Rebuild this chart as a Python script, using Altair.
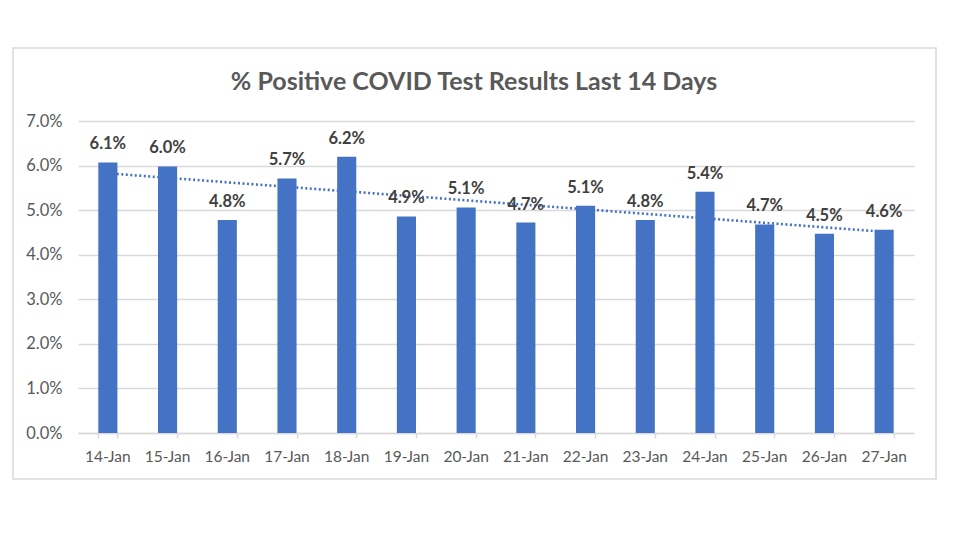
import altair as alt
import pandas as pd

dates = ["14-Jan", "15-Jan", "16-Jan", "17-Jan", "18-Jan", "19-Jan", "20-Jan",
         "21-Jan", "22-Jan", "23-Jan", "24-Jan", "25-Jan", "26-Jan", "27-Jan"]
pct_positive = [0.0607, 0.0598, 0.0478, 0.0571, 0.0620, 0.0486, 0.0506,
                0.0472, 0.0510, 0.0478, 0.0541, 0.0468, 0.0447, 0.0456]
y_ticks = [0.0, 0.01, 0.02, 0.03, 0.04, 0.05, 0.06, 0.07]
title_text = "% Positive COVID Test Results Last 14 Days"

df = pd.DataFrame({"date": dates, "pct": pct_positive, "i": list(range(len(dates)))})

FONT = "Lato"
BLUE = "#4472C4"

x_enc = alt.X("date:N", sort=dates, title=None,
              scale=alt.Scale(paddingInner=0.68, paddingOuter=0.34),
              axis=alt.Axis(labels=False, tickBand="extent", tickSize=5, tickColor="#d9d9d9",
                            tickWidth=1.5, domainColor="#d9d9d9", domainWidth=1.5, grid=False))
y_scale = alt.Scale(domain=[0, 0.07], nice=False)

base = alt.Chart(df)
one = alt.Chart(pd.DataFrame({"t": [title_text]}))

border = one.mark_rect(
    fillOpacity=0, stroke="#d9d9d9", strokeWidth=1.5
).encode(x=alt.value(-65), x2=alt.value(858), y=alt.value(-73), y2=alt.value(358))

title = one.mark_text(font=FONT, fontSize=25, fontWeight="bold", color="#595959",
                      baseline="alphabetic", align="center").encode(
    x=alt.value(396), y=alt.value(-31), text="t:N")

bars = base.mark_bar(color=BLUE).encode(
    x=x_enc,
    y=alt.Y("pct:Q", scale=y_scale, title=None,
            axis=alt.Axis(values=y_ticks, format=".1%", domain=False, ticks=False, tickSize=0,
                          labelPadding=16, labelFont=FONT, labelFontSize=16.5, labelColor="#595959",
                          gridColor="#d9d9d9", gridWidth=1.5)),
)

trend = base.transform_regression("i", "pct").transform_lookup(
    lookup="i", from_=alt.LookupData(data=df, key="i", fields=["date"])
).mark_line(color=BLUE, strokeWidth=2.6, strokeDash=[2, 2.5]).encode(
    x=alt.X("date:N", sort=dates),
    y=alt.Y("pct:Q", scale=y_scale),
)

labels = base.mark_text(font=FONT, fontSize=16.5, fontWeight="bold", color="#404040",
                        baseline="alphabetic", dy=-13).encode(
    x=alt.X("date:N", sort=dates),
    y=alt.Y("pct:Q", scale=y_scale),
    text=alt.Text("pct:Q", format=".1%"),
)

xlabels = base.mark_text(font=FONT, fontSize=15.5, color="#595959", baseline="middle").encode(
    x=alt.X("date:N", sort=dates),
    y=alt.value(336),
    text="date:N",
)

chart = alt.layer(border, title, trend, bars, labels, xlabels).properties(
    width=836, height=312,
    autosize=alt.AutoSizeParams(type="none"),
    padding={"left": 70, "top": 113, "right": 30, "bottom": 80},
).configure_view(stroke=None)

chart.save("out.html", embed_options={"renderer": "svg", "actions": False})
